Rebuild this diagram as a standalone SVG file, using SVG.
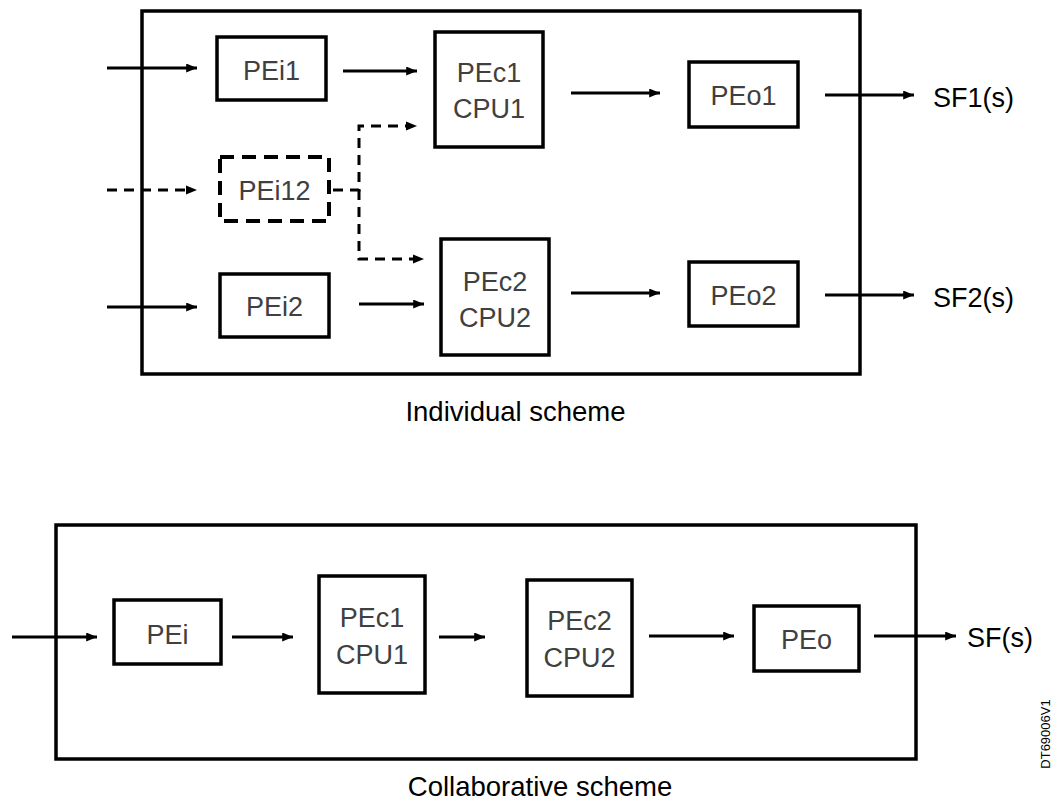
<svg xmlns="http://www.w3.org/2000/svg" width="1063" height="804" viewBox="0 0 1063 804">
<defs>
<marker id="ah" viewBox="0 0 10 10" refX="10" refY="5" markerWidth="3.6" markerHeight="3" markerUnits="strokeWidth" orient="auto" preserveAspectRatio="none">
<path d="M0,0 L10,5 L0,10 Z" fill="#000"/>
</marker>
</defs>
<style>
.frame{fill:none;stroke:#000;stroke-width:3.5}
.box{fill:#fff;stroke:#000;stroke-width:3.5}
.dbox{fill:#fff;stroke:#000;stroke-width:4;stroke-dasharray:14 8}
.lbl{font-family:"Liberation Sans",Arial,sans-serif;font-size:27px;fill:#404040;text-anchor:middle}
.cap{font-family:"Liberation Sans",Arial,sans-serif;font-size:27.5px;fill:#000}
.edge{fill:none;stroke:#000;stroke-width:3;marker-end:url(#ah)}
.dedge{fill:none;stroke:#000;stroke-width:3;stroke-dasharray:10 7}
</style>
<rect width="1063" height="804" fill="#fff"/>
<g id="individual-frame"><rect class="frame" x="142" y="11" width="718" height="363"/></g>
<g id="collaborative-frame"><rect class="frame" x="56" y="525" width="860" height="234"/></g>
<g id="connectors">
<path class="edge" d="M107,68 H197"/>
<path class="edge" d="M343,71 H417"/>
<path class="edge" d="M107,307 H197"/>
<path class="edge" d="M359,304 H424"/>
<path class="edge" d="M571,93 H660"/>
<path class="edge" d="M825,95 H914"/>
<path class="edge" d="M571,293 H660"/>
<path class="edge" d="M825,295 H914"/>
<path class="dedge" d="M107,190 H187"/>
<path d="M186,185.5 L197,190 L186,194.5 Z" fill="#000"/>
<path class="dedge" d="M333,190 H359 V126 H407"/>
<path d="M406,121.5 L417,126 L406,130.5 Z" fill="#000"/>
<path class="dedge" d="M359,190 V259 H414"/>
<path d="M413,254.5 L424,259 L413,263.5 Z" fill="#000"/>
<path class="edge" d="M12,637 H97"/>
<path class="edge" d="M232,637 H293"/>
<path class="edge" d="M439,637 H485"/>
<path class="edge" d="M649,636 H734"/>
<path class="edge" d="M874,636 H956"/>
</g>
<g id="PEi1"><rect class="box" x="217" y="37" width="109" height="63"/><text class="lbl" x="271.5" y="80">PEi1</text></g>
<g id="PEc1-top"><rect class="box" x="435" y="32" width="108" height="115"/><text class="lbl" x="489" y="82">PEc1</text><text class="lbl" x="489" y="118">CPU1</text></g>
<g id="PEi12"><rect class="dbox" x="220" y="157" width="109" height="64"/><text class="lbl" x="274.5" y="200">PEi12</text></g>
<g id="PEi2"><rect class="box" x="220" y="274" width="109" height="63"/><text class="lbl" x="274.5" y="316">PEi2</text></g>
<g id="PEc2-top"><rect class="box" x="441" y="239" width="108" height="116"/><text class="lbl" x="495" y="291">PEc2</text><text class="lbl" x="495" y="327">CPU2</text></g>
<g id="PEo1"><rect class="box" x="689" y="62" width="109" height="65"/><text class="lbl" x="743.5" y="105">PEo1</text></g>
<g id="PEo2"><rect class="box" x="689" y="262" width="109" height="64"/><text class="lbl" x="743.5" y="305">PEo2</text></g>
<g id="SF1"><text class="cap" x="933" y="107" style="font-size:27px">SF1(s)</text></g>
<g id="SF2"><text class="cap" x="933" y="307" style="font-size:27px">SF2(s)</text></g>
<g id="PEi"><rect class="box" x="114" y="600" width="107" height="64"/><text class="lbl" x="167.5" y="644">PEi</text></g>
<g id="PEc1-bottom"><rect class="box" x="319" y="576" width="106" height="117"/><text class="lbl" x="372" y="627">PEc1</text><text class="lbl" x="372" y="664">CPU1</text></g>
<g id="PEc2-bottom"><rect class="box" x="527" y="580" width="105" height="116"/><text class="lbl" x="579.5" y="630">PEc2</text><text class="lbl" x="579.5" y="667">CPU2</text></g>
<g id="PEo"><rect class="box" x="754" y="606" width="105" height="65"/><text class="lbl" x="806.5" y="649">PEo</text></g>
<g id="SF"><text class="cap" x="967" y="647" style="font-size:27px">SF(s)</text></g>
<g id="captions">
<text class="cap" x="515.5" y="421" text-anchor="middle">Individual scheme</text>
<text class="cap" x="540" y="796" text-anchor="middle">Collaborative scheme</text>
<text x="1050" y="734" transform="rotate(-90 1050 734)" font-family="Liberation Sans, Arial, sans-serif" font-size="13" text-anchor="middle" fill="#000">DT69006V1</text>
</g>
</svg>
